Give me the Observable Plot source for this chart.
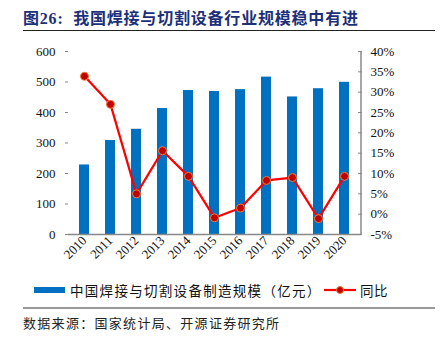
<!DOCTYPE html>
<html><head><meta charset="utf-8">
<script src="https://cdn.jsdelivr.net/npm/d3@7"></script>
<script src="https://cdn.jsdelivr.net/npm/@observablehq/plot@0.6"></script>
<style>
body{margin:0;background:#fff;width:440px;height:353px;position:relative;overflow:hidden;font-family:"Noto Sans CJK SC",sans-serif;}
#title{position:absolute;left:23px;top:5px;font-size:16px;font-weight:bold;color:#1c2f7a;font-family:"Liberation Serif","Noto Sans CJK SC",serif;white-space:nowrap;letter-spacing:0.8px}
#tline{position:absolute;left:23px;top:30px;width:412px;height:1px;background:#222}
#chart{position:absolute;left:0;top:35px}
#legend{position:absolute;left:0;top:281px;font-size:13.5px;color:#111;white-space:nowrap}
.sw{position:absolute}
#sline{position:absolute;left:23px;top:307px;width:412px;height:1.5px;background:#999}
#source{position:absolute;left:23px;top:313px;font-size:13px;color:#222;letter-spacing:1.3px;white-space:nowrap}
</style></head>
<body>
<div id="title">图26:&nbsp; 我国焊接与切割设备行业规模稳中有进</div>
<div id="tline"></div>
<div id="chart"></div>
<div id="legend"></div>
<div id="sline"></div>
<div id="source">数据来源：国家统计局、开源证券研究所</div>
<script>
const years = ["2010","2011","2012","2013","2014","2015","2016","2017","2018","2019","2020"];
const scale = [228, 308, 345, 413, 472, 469, 475, 516, 451, 478, 499];
const yoy = [33.9, 27.0, 5.0, 15.6, 9.3, -0.9, 1.5, 8.3, 9.0, -1.1, 9.3];
const leftTicks = [0, 100, 200, 300, 400, 500, 600];
const rightTicks = [-5, 0, 5, 10, 15, 20, 25, 30, 35, 40];
const barName = "中国焊接与切割设备制造规模（亿元）";
const lineName = "同比";

const barColor = "#0070c0";
const lineColor = "#ff0000";
const toY = p => (p + 5) / 45 * 600;

const data = years.map((y, i) => ({year: y, v: scale[i], p: toY(yoy[i])}));
const serif = "'Liberation Serif','Times New Roman',serif";

const chart = Plot.plot({
  width: 440, height: 245,
  marginLeft: 68, marginRight: 79, marginTop: 16, marginBottom: 46,
  style: {fontFamily: serif, fontSize: "13px", color: "#111", background: "transparent"},
  x: {domain: years, paddingInner: 0.6, paddingOuter: 0.3, label: null},
  y: {domain: [0, 600], label: null},
  marks: [
    Plot.barY(data, {x: "year", y: "v", fill: barColor}),
    Plot.axisY(leftTicks, {anchor: "left", tickSize: 3, tickPadding: 10, stroke: "#888", label: null, fontSize: 13}),
    Plot.ruleX([0], {stroke: "#888", strokeWidth: 1.5}),
    Plot.axisY(rightTicks.map(toY), {anchor: "right", tickSize: -4, tickPadding: 13, stroke: "#888", label: null,
      tickFormat: v => Math.round(v * 45 / 600 - 5) + "%", fontSize: 13}),
    Plot.ruleY([0], {stroke: "#888", strokeWidth: 1.5}),
    Plot.ruleX(years.slice(1), {x: "year", y1: 0, y2: 10, dx: -13.3, stroke: "#888"}),
    Plot.line(data, {x: "year", y: "p", stroke: lineColor, strokeWidth: 2.2}),
    Plot.dot(data, {x: "year", y: "p", r: 4, fill: "#c00000", stroke: "#f08030", strokeWidth: 1}),
    Plot.axisX({anchor: "bottom", tickSize: 0, tickRotate: -45, tickPadding: 4, fontSize: 13, label: null}),
  ]
});
document.getElementById("chart").appendChild(chart);
const svg = d3.select(chart);
svg.append("line").attr("x1", 361).attr("x2", 361).attr("y1", 16).attr("y2", 199).attr("stroke", "#888").attr("stroke-width", 1.5);

const lg = document.getElementById("legend");
lg.innerHTML = `
<div class="sw" style="left:34px;top:6px;width:31px;height:6px;background:${barColor}"></div>
<div class="sw" style="left:70px;top:-1px;letter-spacing:1.3px">${barName}</div>
<svg class="sw" style="left:323px;top:2px" width="34" height="14"><line x1="1" x2="33" y1="7" y2="7" stroke="${lineColor}" stroke-width="2.2"/><circle cx="17" cy="7" r="3.5" fill="#c00000" stroke="#f08030"/></svg>
<div class="sw" style="left:360px;top:-1px;letter-spacing:0.5px">${lineName}</div>`;
</script>
</body></html>
